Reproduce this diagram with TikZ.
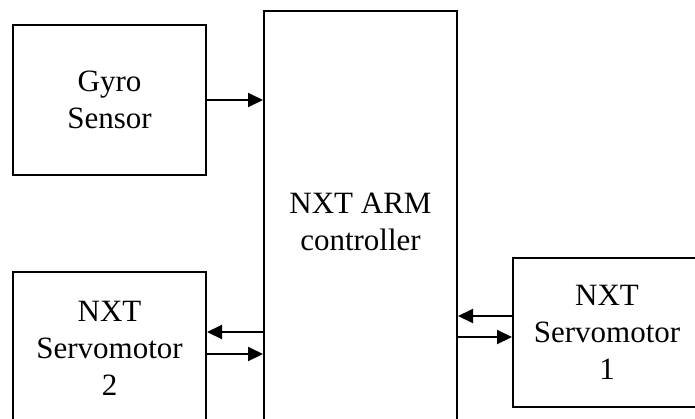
\documentclass[tikz,border=0pt]{standalone}
\usepackage{fontspec}
\setmainfont{Liberation Serif}
\usetikzlibrary{arrows.meta}
\begin{document}
\begin{tikzpicture}[x=1pt,y=-1pt,
  blockbox/.style={draw, line width=2pt, rectangle, align=center, inner sep=0pt,
    font=\fontsize{31}{37}\selectfont},
  conn/.style={line width=2pt, -{Triangle[length=15pt,width=14pt]}}]
\useasboundingbox (0,0) rectangle (695,418);
\clip (0,0) rectangle (695,418);
\node[blockbox, minimum width=193pt, minimum height=150pt] (gyro) at (109.5,100) {Gyro\\Sensor};
\node[blockbox, minimum width=193pt, minimum height=422pt] (arm) at (360.5,222) {NXT ARM\\controller};
\node[blockbox, minimum width=193pt, minimum height=153pt] (servo2) at (109.5,348.5) {NXT\\Servomotor\\2};
\node[blockbox, minimum width=188pt, minimum height=149pt] (servo1) at (607,332.5) {NXT\\Servomotor\\1};
\draw[conn] (gyro.east) -- (gyro.east -| arm.west);
\draw[conn] ([yshift=16.5pt]servo2.east -| arm.west) -- ([yshift=16.5pt]servo2.east);
\draw[conn] ([yshift=-5.5pt]servo2.east) -- ([yshift=-5.5pt]servo2.east -| arm.west);
\draw[conn] ([yshift=16.5pt]servo1.west) -- ([yshift=16.5pt]servo1.west -| arm.east);
\draw[conn] ([yshift=-4.5pt,xshift=-2pt]servo1.west -| arm.east) -- ([yshift=-4.5pt]servo1.west);
\end{tikzpicture}
\end{document}
